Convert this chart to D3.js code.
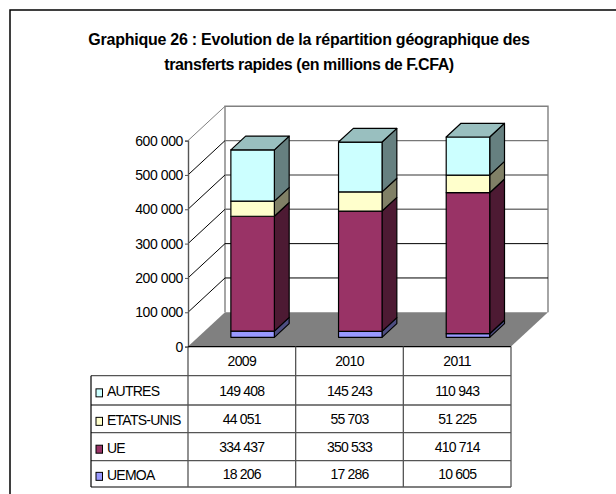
<!DOCTYPE html>
<html>
<head>
<meta charset="utf-8">
<script src="https://cdn.jsdelivr.net/npm/d3@7"></script>
<style>
html, body { margin: 0; padding: 0; background: #fff; }
svg { display: block; }
text { font-family: "Liberation Sans", Arial, sans-serif; fill: #000; }
</style>
</head>
<body>
<div id="chart"></div>
<script>
var years = ["2009", "2010", "2011"];
var seriesNames = ["UEMOA", "UE", "ETATS-UNIS", "AUTRES"];
var uemoa = [18206, 17286, 10605];
var ue = [334437, 350533, 410714];
var etatsUnis = [44051, 55703, 51225];
var autres = [149408, 145243, 110943];
var yTicks = [0, 100000, 200000, 300000, 400000, 500000, 600000];
var titleLines = ["Graphique 26 : Evolution de la répartition géographique des",
                  "transferts rapides (en millions de F.CFA)"];

var seriesValues = [uemoa, ue, etatsUnis, autres];
var frontColors = ["#9999ff", "#993366", "#ffffcc", "#ccffff"];

var W = 616, H = 494;
var svg = d3.select("#chart").append("svg").attr("width", W).attr("height", H);

// page frame, open at the bottom and on the right
svg.append("path")
    .attr("d", "M10," + H + "V10H" + W)
    .attr("fill", "none").attr("stroke", "#000").attr("stroke-width", 1.5);

svg.selectAll("text.title").data(titleLines).enter().append("text")
    .attr("class", "title")
    .attr("x", 309)
    .attr("y", function(d, i) { return 44.5 + i * 25; })
    .attr("text-anchor", "middle")
    .style("font-size", "16px")
    .style("font-weight", "bold")
    .style("letter-spacing", function(d, i) { return i ? "-0.4px" : "-0.25px"; })
    .text(function(d) { return d; });

// front plane of the plot; the 3D depth is a fixed oblique shift
var x = d3.scaleBand().domain(years).range([188, 511]);
var y = d3.scaleLinear().domain([0, 600000]).range([346.6, 140.6]);
var depthX = 37, depthY = 34.3;
var barWidth = 43.5, barFront = 0.27, barBack = 0.67, barNudge = 0.8;
var numFormat = function(d) { return d3.format(",")(d).replace(/,/g, " "); };

function px(xv, t) { return xv + depthX * t; }
function py(yv, t) { return yv - depthY * t; }

// back wall and side wall
var wall = svg.append("g").attr("fill", "none");
wall.append("path")
    .attr("d", "M" + px(188, 1) + "," + py(y(0), 1) + "V" + py(y(600000), 1) + "H" + px(511, 1) + "V" + py(y(0), 1))
    .attr("stroke", "#808080").attr("stroke-width", 1.4);

wall.selectAll("path.side").data(yTicks.slice(1)).enter().append("path")
    .attr("class", "side")
    .attr("d", function(d) { return "M188," + y(d) + "L" + px(188, 1) + "," + py(y(d), 1); })
    .attr("stroke", function(d) { return d === 600000 ? "#808080" : "#000"; })
    .attr("stroke-width", 1);

wall.selectAll("path.grid").data(yTicks.slice(1, -1)).enter().append("path")
    .attr("class", "grid")
    .attr("d", function(d) { return "M" + px(188, 1) + "," + py(y(d), 1) + "H" + px(511, 1); })
    .attr("stroke", function(d) { return d > 200000 ? "#777" : "#000"; })
    .attr("stroke-width", function(d) { return d > 200000 ? 1.4 : 1; });

// floor
svg.append("path")
    .attr("d", "M188," + y(0) + "H511L" + px(511, 1) + "," + py(y(0), 1) + "H" + px(188, 1) + "Z")
    .attr("fill", "#808080");

// stacked bars, bottom to top
var stack = d3.stack().keys(d3.range(seriesNames.length))
    .value(function(row, k) { return row[k]; })(years.map(function(yr, i) {
        return seriesValues.map(function(s) { return s[i]; });
    }));

var barsG = svg.append("g").attr("stroke", "#000").attr("stroke-width", 1.2).attr("stroke-linejoin", "round");

years.forEach(function(yr, i) {
    var x0 = px(x(yr) + (x.bandwidth() - barWidth) / 2, barFront) + barNudge;
    var x1 = x0 + barWidth;
    var dx = depthX * (barBack - barFront), dy = depthY * (barBack - barFront);
    stack.forEach(function(layer, k) {
        var yb = py(y(layer[i][0]), barFront), yt = py(y(layer[i][1]), barFront);
        var col = d3.color(frontColors[k]);
        barsG.append("path")
            .attr("d", "M" + x1 + "," + yb + "L" + (x1 + dx) + "," + (yb - dy) + "V" + (yt - dy) + "L" + x1 + "," + yt + "Z")
            .attr("fill", d3.rgb(col.r / 2, col.g / 2, col.b / 2));
        barsG.append("rect")
            .attr("x", x0).attr("y", yt)
            .attr("width", barWidth).attr("height", yb - yt)
            .attr("fill", frontColors[k]);
        if (k === stack.length - 1) {
            barsG.append("path")
                .attr("d", "M" + x0 + "," + yt + "L" + (x0 + dx) + "," + (yt - dy) + "H" + (x1 + dx) + "L" + x1 + "," + yt + "Z")
                .attr("fill", d3.rgb(col.r * 0.75, col.g * 0.75, col.b * 0.75));
        }
    });
});

// value axis
var axisG = svg.append("g").attr("transform", "translate(188,0)")
    .call(d3.axisLeft(y).tickValues(yTicks).tickSize(3).tickPadding(2)
        .tickFormat(function(d) { return d === 0 ? "0" : numFormat(d); }));
axisG.select(".domain").attr("stroke", "#555").attr("stroke-width", 1.4);
axisG.selectAll("line").attr("stroke", "#555");
axisG.selectAll("text").style("font-size", "14px").style("letter-spacing", "-0.4px")
    .style("font-family", '"Liberation Sans", Arial, sans-serif').attr("fill", "#000");

// data table
var rowY = [346.6, 375.7, 405, 432.7, 460.7, 487];
var tableLeft = 91;
var tableRows = seriesNames.slice().reverse();
var tableVals = seriesValues.slice().reverse();
var colLines = x.domain().map(function(d) { return x(d); }).concat([x.range()[1]]);
var tbl = svg.append("g");

tbl.append("line").attr("x1", 188).attr("x2", 511).attr("y1", rowY[0]).attr("y2", rowY[0])
    .attr("stroke", "#000").attr("stroke-width", 1.3);
tbl.selectAll("line.h").data(rowY.slice(1)).enter().append("line")
    .attr("class", "h")
    .attr("x1", tableLeft).attr("x2", 511)
    .attr("y1", function(d) { return d; }).attr("y2", function(d) { return d; })
    .attr("stroke", "#555").attr("stroke-width", 1.3);
tbl.selectAll("line.v").data(colLines).enter().append("line")
    .attr("class", "v")
    .attr("x1", function(d) { return d; }).attr("x2", function(d) { return d; })
    .attr("y1", rowY[0]).attr("y2", rowY[5])
    .attr("stroke", "#555").attr("stroke-width", 1.3);
tbl.append("line").attr("x1", tableLeft).attr("x2", tableLeft).attr("y1", rowY[1]).attr("y2", rowY[5])
    .attr("stroke", "#000").attr("stroke-width", 1.2);

tbl.selectAll("text.yr").data(years).enter().append("text")
    .attr("class", "yr")
    .attr("x", function(d) { return x(d) + x.bandwidth() / 2; })
    .attr("y", 366)
    .attr("text-anchor", "middle").style("font-size", "14px").style("letter-spacing", "-0.6px")
    .text(function(d) { return d; });

tableRows.forEach(function(name, r) {
    var midY = (rowY[r + 1] + rowY[r + 2]) / 2;
    tbl.append("rect")
        .attr("x", 96).attr("y", midY - 1.5).attr("width", 6.5).attr("height", 8)
        .attr("fill", frontColors[seriesNames.length - 1 - r])
        .attr("stroke", "#000");
    tbl.append("text").attr("x", 107).attr("y", midY + 6)
        .style("font-size", "14px").style("letter-spacing", "-0.75px").text(name);
    years.forEach(function(yr, i) {
        tbl.append("text")
            .attr("x", x(yr) + x.bandwidth() / 2).attr("y", midY + 5.3)
            .attr("text-anchor", "middle").style("font-size", "14px").style("letter-spacing", "-0.8px")
            .text(numFormat(tableVals[r][i]));
    });
});
</script>
</body>
</html>
